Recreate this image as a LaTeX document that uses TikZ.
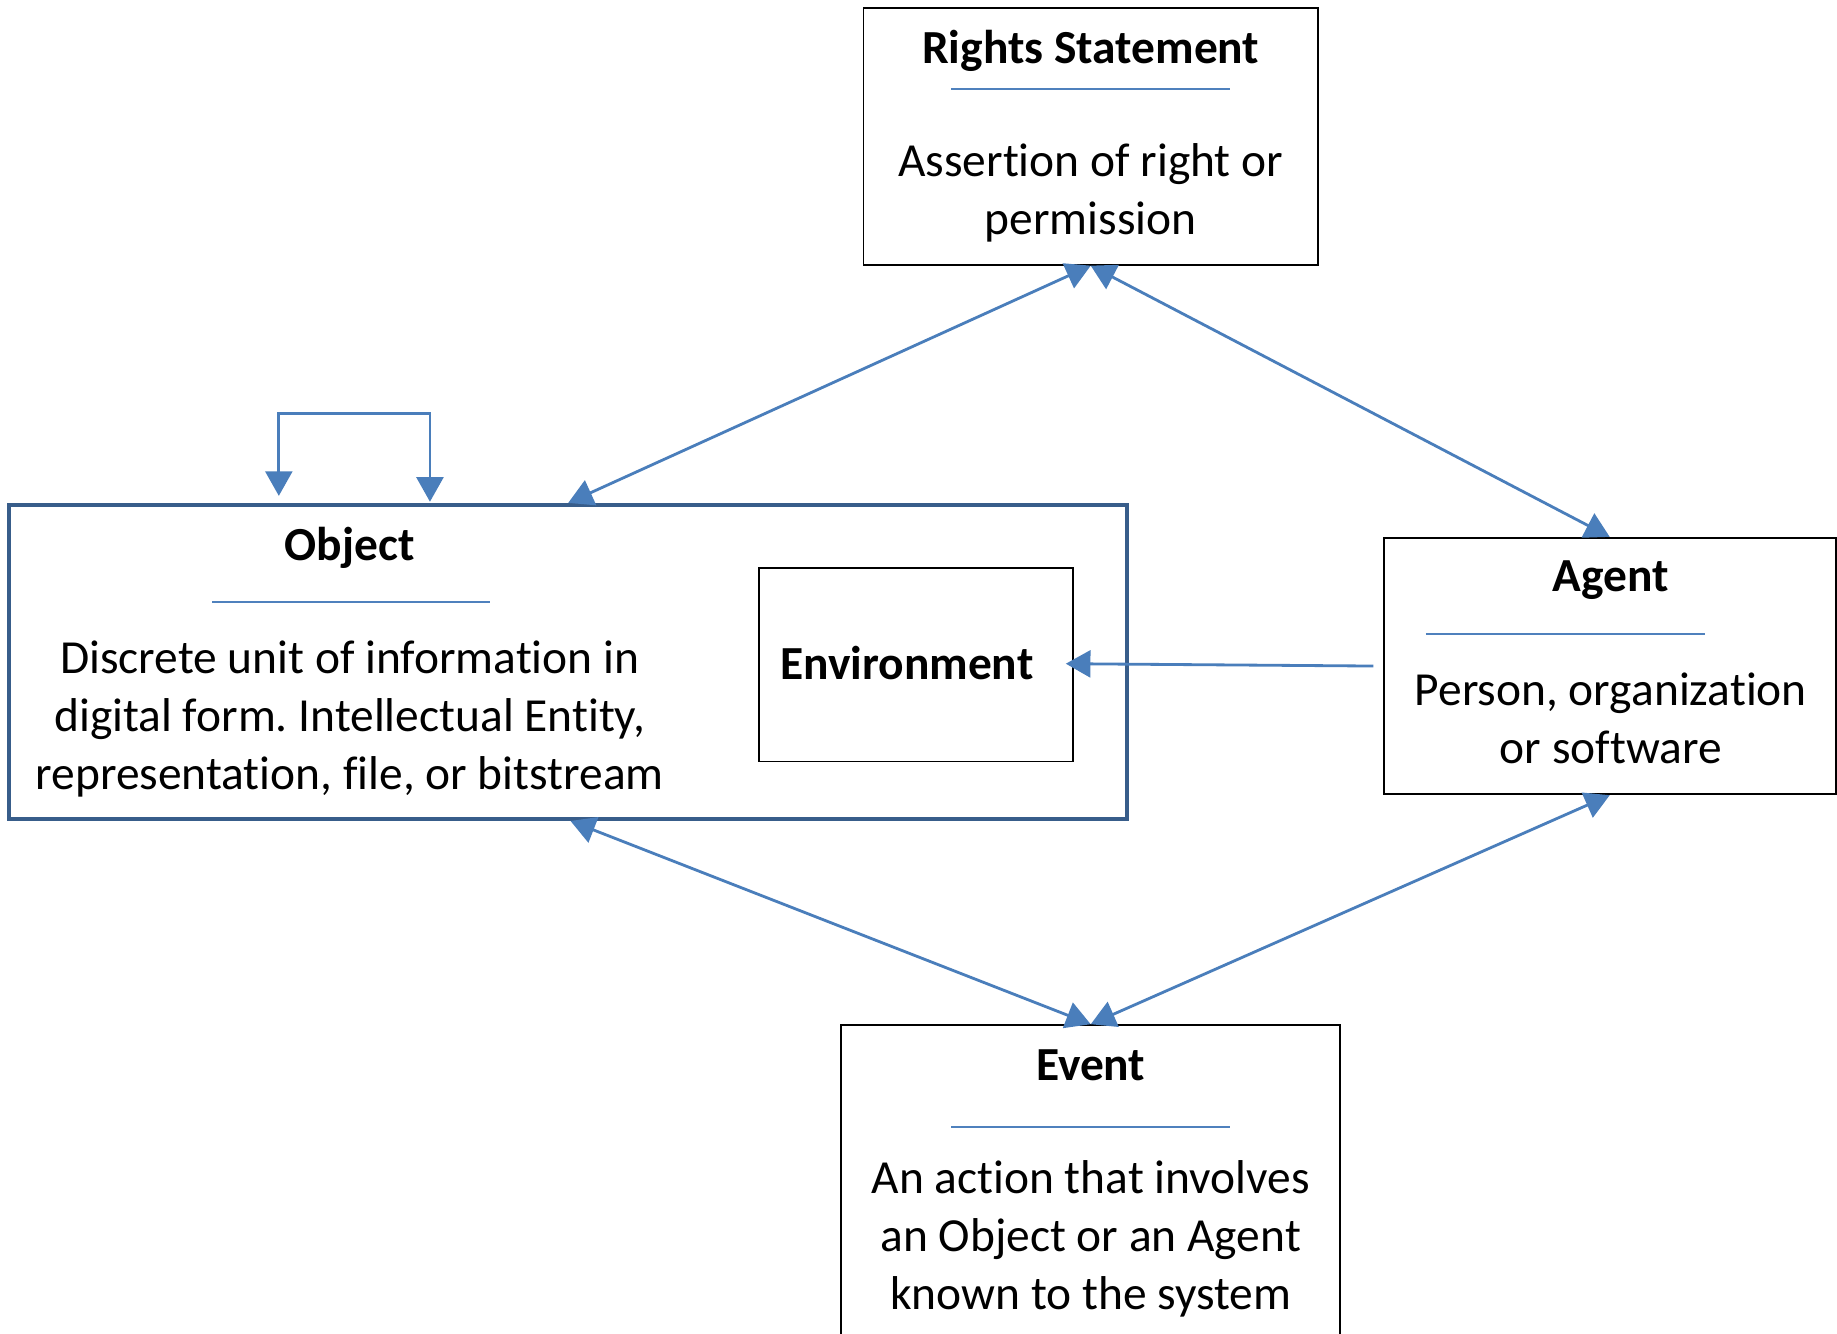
\documentclass[tikz,border=0pt]{standalone}
\usepackage{fontspec}
\setmainfont{Carlito}[Ligatures=NoCommon]
\usetikzlibrary{arrows.meta}
\definecolor{arrowblue}{HTML}{4A7EBB}
\definecolor{ruleblue}{HTML}{4F81BD}
\definecolor{objblue}{HTML}{385D8A}
\frenchspacing
\begin{document}
\begin{tikzpicture}[x=1pt,y=-1pt,
  box/.style={draw=black,line width=1.5pt,rectangle,inner sep=0pt},
  objbox/.style={draw=objblue,line width=3.5pt,rectangle,inner sep=0pt},
  conn/.style={draw=arrowblue,line width=2.4pt},
  tipstyle/.style={-{Triangle[length=21pt,width=23pt]}},
  bothtips/.style={{Triangle[length=21pt,width=23pt]}-{Triangle[length=21pt,width=23pt]}},
  ttl/.style={font=\fontsize{40.5}{49.5}\selectfont\bfseries,anchor=base,inner sep=0pt},
  body/.style={font=\fontsize{40.5}{49.5}\selectfont,anchor=base,align=center,inner sep=0pt},
  rulel/.style={draw=ruleblue,line width=1.5pt}]
\useasboundingbox (0,0) rectangle (1568,1138);
\clip (0,0) rectangle (1568,1138);
\fill[white] (0,0) rectangle (1568,1138);

% boxes
\node[box,minimum width=388pt,minimum height=219pt] (rights) at (931,116.5) {};
\node[objbox,minimum width=954pt,minimum height=268pt] (obj) at (485,565) {};
\node[box,minimum width=268pt,minimum height=165pt] (env) at (782,567.5) {};
\node[box,minimum width=386pt,minimum height=219pt] (agent) at (1374,568.5) {};
\node[box,minimum width=426pt,minimum height=280pt] (event) at (931,1015) {};

% title rules
\draw[rulel] (812,76) -- (1050,76);
\draw[rulel] (181,514) -- (418,514);
\draw[rulel] (1217,541) -- (1455,541);
\draw[rulel] (812,962) -- (1050,962);

% texts (base anchor of a multi-line node = last line's baseline)
\node[ttl] (rightsT) at (931,54) {Rights Statement};
\node[body] (rightsB) at (931,200) {Assertion of right or\\permission};
\node[ttl] (objT) at (298.5,478) {Object};
\node[body] (objB) at (298.5,674) {Discrete unit of information in\\digital form. Intellectual Entity,\\representation, file, or bitstream};
\node[ttl] (envT) at (774,580) {Environment};
\node[ttl] (agentT) at (1375,505) {Agent};
\node[body] (agentB) at (1375,652) {Person, organization\\or software};
\node[ttl] (eventT) at (931,922) {Event};
\node[body] (eventB) at (931,1118) {An action that involves\\an Object or an Agent\\known to the system};

% connectors
\draw[conn,bothtips] (obj.north) -- (rights.south);
\draw[conn,bothtips] (rights.south) -- (agent.north);
\draw[conn,bothtips] ([xshift=2pt]obj.south) -- (event.north);
\draw[conn,bothtips] (agent.south) -- (event.north);
\draw[conn,tipstyle] ([xshift=-8pt]agent.west) -- ([xshift=-7pt,yshift=1pt]env.east);
\coordinate (loopL) at ([xshift=-247pt,yshift=76pt]obj.north);
\coordinate (loopR) at ([xshift=-118pt,yshift=76pt]obj.north);
\draw[conn,bothtips] ([xshift=-247pt,yshift=6pt]obj.north) -- (loopL) -- (loopR) -- ([xshift=-118pt,yshift=1pt]obj.north);
\end{tikzpicture}
\end{document}
